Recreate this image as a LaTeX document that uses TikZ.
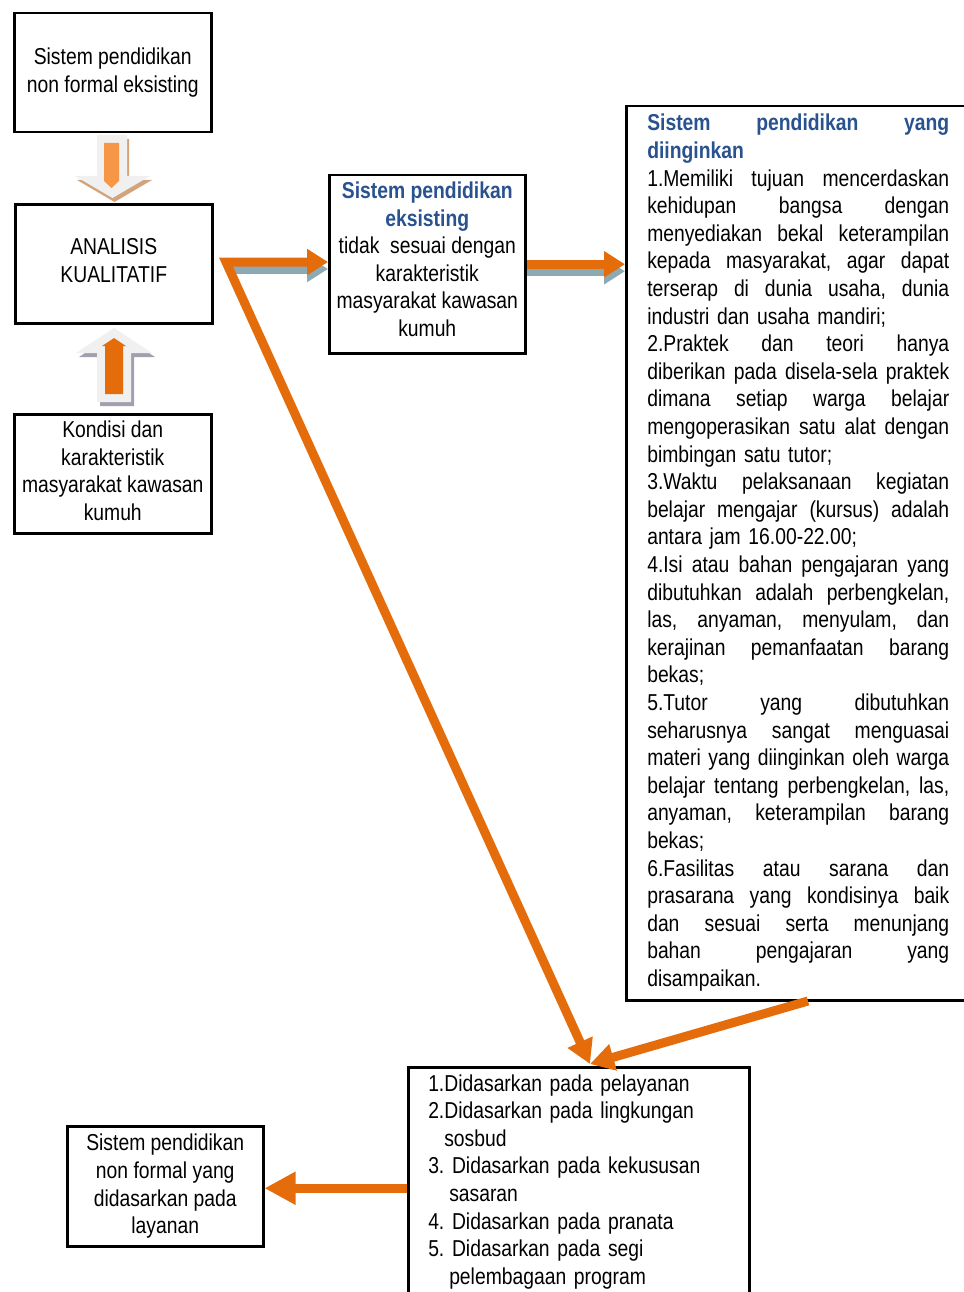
\documentclass[tikz,border=0pt]{standalone}
\usepackage{fontspec}
\setmainfont{Liberation Sans}[FakeStretch=0.84]
\usetikzlibrary{arrows.meta,calc}
\definecolor{orangeA}{HTML}{E46C0A}
\definecolor{orangeL}{HTML}{F79646}
\definecolor{shadowB}{HTML}{8DA9B4}
\definecolor{shadowT}{HTML}{D3A47C}
\definecolor{shadowG}{HTML}{A39FAE}
\definecolor{lightG}{HTML}{F0F0F0}
\definecolor{titleblue}{HTML}{29528F}
\newcommand\jl[1]{\leavevmode\hbox to 302pt{\spaceskip=.25em plus 1fil\relax\xspaceskip=.25em plus 1fil\relax #1}}
\newcommand\ttl[1]{\textcolor{titleblue}{\bfseries #1}}
\newcommand\dep[1]{\rule[-#1pt]{0pt}{0pt}}
\frenchspacing
\begin{document}
\begin{tikzpicture}[x=1pt,y=-1pt,
  box/.style={draw=black, line width=2.5pt, inner sep=0pt, align=center,
    font=\fontsize{23}{27.6}\selectfont\frenchspacing, anchor=north west},
  oline/.style={draw=orangeA, line width=9pt},
  shline/.style={draw=shadowB, line width=9pt},
  hhead/.style={-{Triangle[length=21pt,width=25pt]}},
]
\useasboundingbox (0,0) rectangle (963,1292);
\fill[white] (0,0) rectangle (963,1292);

% boxes
\node[box, minimum width=197, minimum height=119] (A) at (13,12) {Sistem pendidikan\\non formal eksisting};
\node[box, minimum width=197, minimum height=119] (B) at (14,203) {ANALISIS\\KUALITATIF\dep{6}};
\node[box, minimum width=197, minimum height=119] (C) at (13,413) {Kondisi dan\\karakteristik\\masyarakat kawasan\\kumuh\dep{6}};
\node[box, minimum width=196, minimum height=178] (D) at (328,174) {\ttl{Sistem pendidikan}\\\ttl{eksisting}\\tidak~ sesuai dengan\\karakteristik\\masyarakat kawasan\\kumuh\dep{10}};
\node[box, align=left, text width=302, inner xsep=21, inner ysep=0, minimum height=894] (E) at (625,105) {%
\strut\ttl{\jl{Sistem pendidikan yang}}\\
\ttl{diinginkan}\\
\jl{1.Memiliki tujuan mencerdaskan}\\
\jl{kehidupan bangsa dengan}\\
\jl{menyediakan bekal keterampilan}\\
\jl{kepada masyarakat, agar dapat}\\
\jl{terserap di dunia usaha, dunia}\\
industri dan usaha mandiri;\\
\jl{2.Praktek dan teori hanya}\\
\jl{diberikan pada disela-sela praktek}\\
\jl{dimana setiap warga belajar}\\
\jl{mengoperasikan satu alat dengan}\\
bimbingan satu tutor;\\
\jl{3.Waktu pelaksanaan kegiatan}\\
\jl{belajar mengajar (kursus) adalah}\\
antara jam 16.00-22.00;\\
\jl{4.Isi atau bahan pengajaran yang}\\
\jl{dibutuhkan adalah perbengkelan,}\\
\jl{las, anyaman, menyulam, dan}\\
\jl{kerajinan pemanfaatan barang}\\
bekas;\\
\jl{5.Tutor yang dibutuhkan}\\
\jl{seharusnya sangat menguasai}\\
\jl{materi yang diinginkan oleh warga}\\
\jl{belajar tentang perbengkelan, las,}\\
\jl{anyaman, keterampilan barang}\\
bekas;\\
\jl{6.Fasilitas atau sarana dan}\\
\jl{prasarana yang kondisinya baik}\\
\jl{dan sesuai serta menunjang}\\
\jl{bahan pengajaran yang}\\
disampaikan.\strut};
\node[box, align=left, text width=301, inner xsep=20, inner ysep=0, minimum height=230] (F) at (407,1066) {%
\strut 1.Didasarkan pada pelayanan\\
2.Didasarkan pada lingkungan\\
\hspace*{16pt}sosbud\\
3. Didasarkan pada kekususan\\
\hspace*{21pt}sasaran\\
4. Didasarkan pada pranata\\
5. Didasarkan pada segi\\
\hspace*{21pt}pelembagaan program\strut};
\node[box, minimum width=196, minimum height=120] (G) at (66,1125) {Sistem pendidikan\\non formal yang\\didasarkan pada\\layanan};

% block arrow down (A -> B)
\fill[shadowT] (99,139) -- (129,139) -- (129,180) -- (152,180) -- (114.5,202) -- (77,180) -- (99,180) -- cycle;
\fill[lightG] (97,135) -- (127,135) -- (127,176) -- (150,176) -- (112.5,198) -- (75,176) -- (97,176) -- cycle;
\fill[orangeL] (104,143) -- (119,143) -- (119,181) -- (111.5,188) -- (104,181) -- cycle;

% block arrow up (C -> B)
\fill[shadowG] (117,332) -- (155,357) -- (134,357) -- (134,406) -- (100,406) -- (100,357) -- (79,357) -- cycle;
\fill[lightG] (114,328) -- (152,353) -- (131,353) -- (131,402) -- (97,402) -- (97,353) -- (76,353) -- cycle;
\fill[orangeA] (114,338) -- (126,346) -- (123,346) -- (123,394) -- (105,394) -- (105,346) -- (102,346) -- cycle;

% connectors
\coordinate (bs) at (226,262);
\coordinate (ft) at (590,1064);
\coordinate (es) at (808,1001);
\coordinate (fw) at ($(F.west)+(0,6)$);

\draw[shline, hhead] ([shift={(4,7)}]bs) -- ([shift={(0,7)}]bs -| D.west);
\draw[oline, {Triangle[length=24pt,width=26pt]}-{Triangle[length=21pt,width=25pt]}] (ft) -- (bs) -- (bs -| D.west);

\draw[shline, hhead] ([shift={(0,7)}]D.east) -- ([shift={(0,7)}]D.east -| E.west);
\draw[oline, hhead] (D.east) -- (D.east -| E.west);

\draw[oline, -{Triangle[length=24pt,width=26pt]}] (es) -- (ft);
\draw[oline, -{Triangle[length=31pt,width=31pt]}] (fw) -- (fw -| G.east);
\end{tikzpicture}
\end{document}
